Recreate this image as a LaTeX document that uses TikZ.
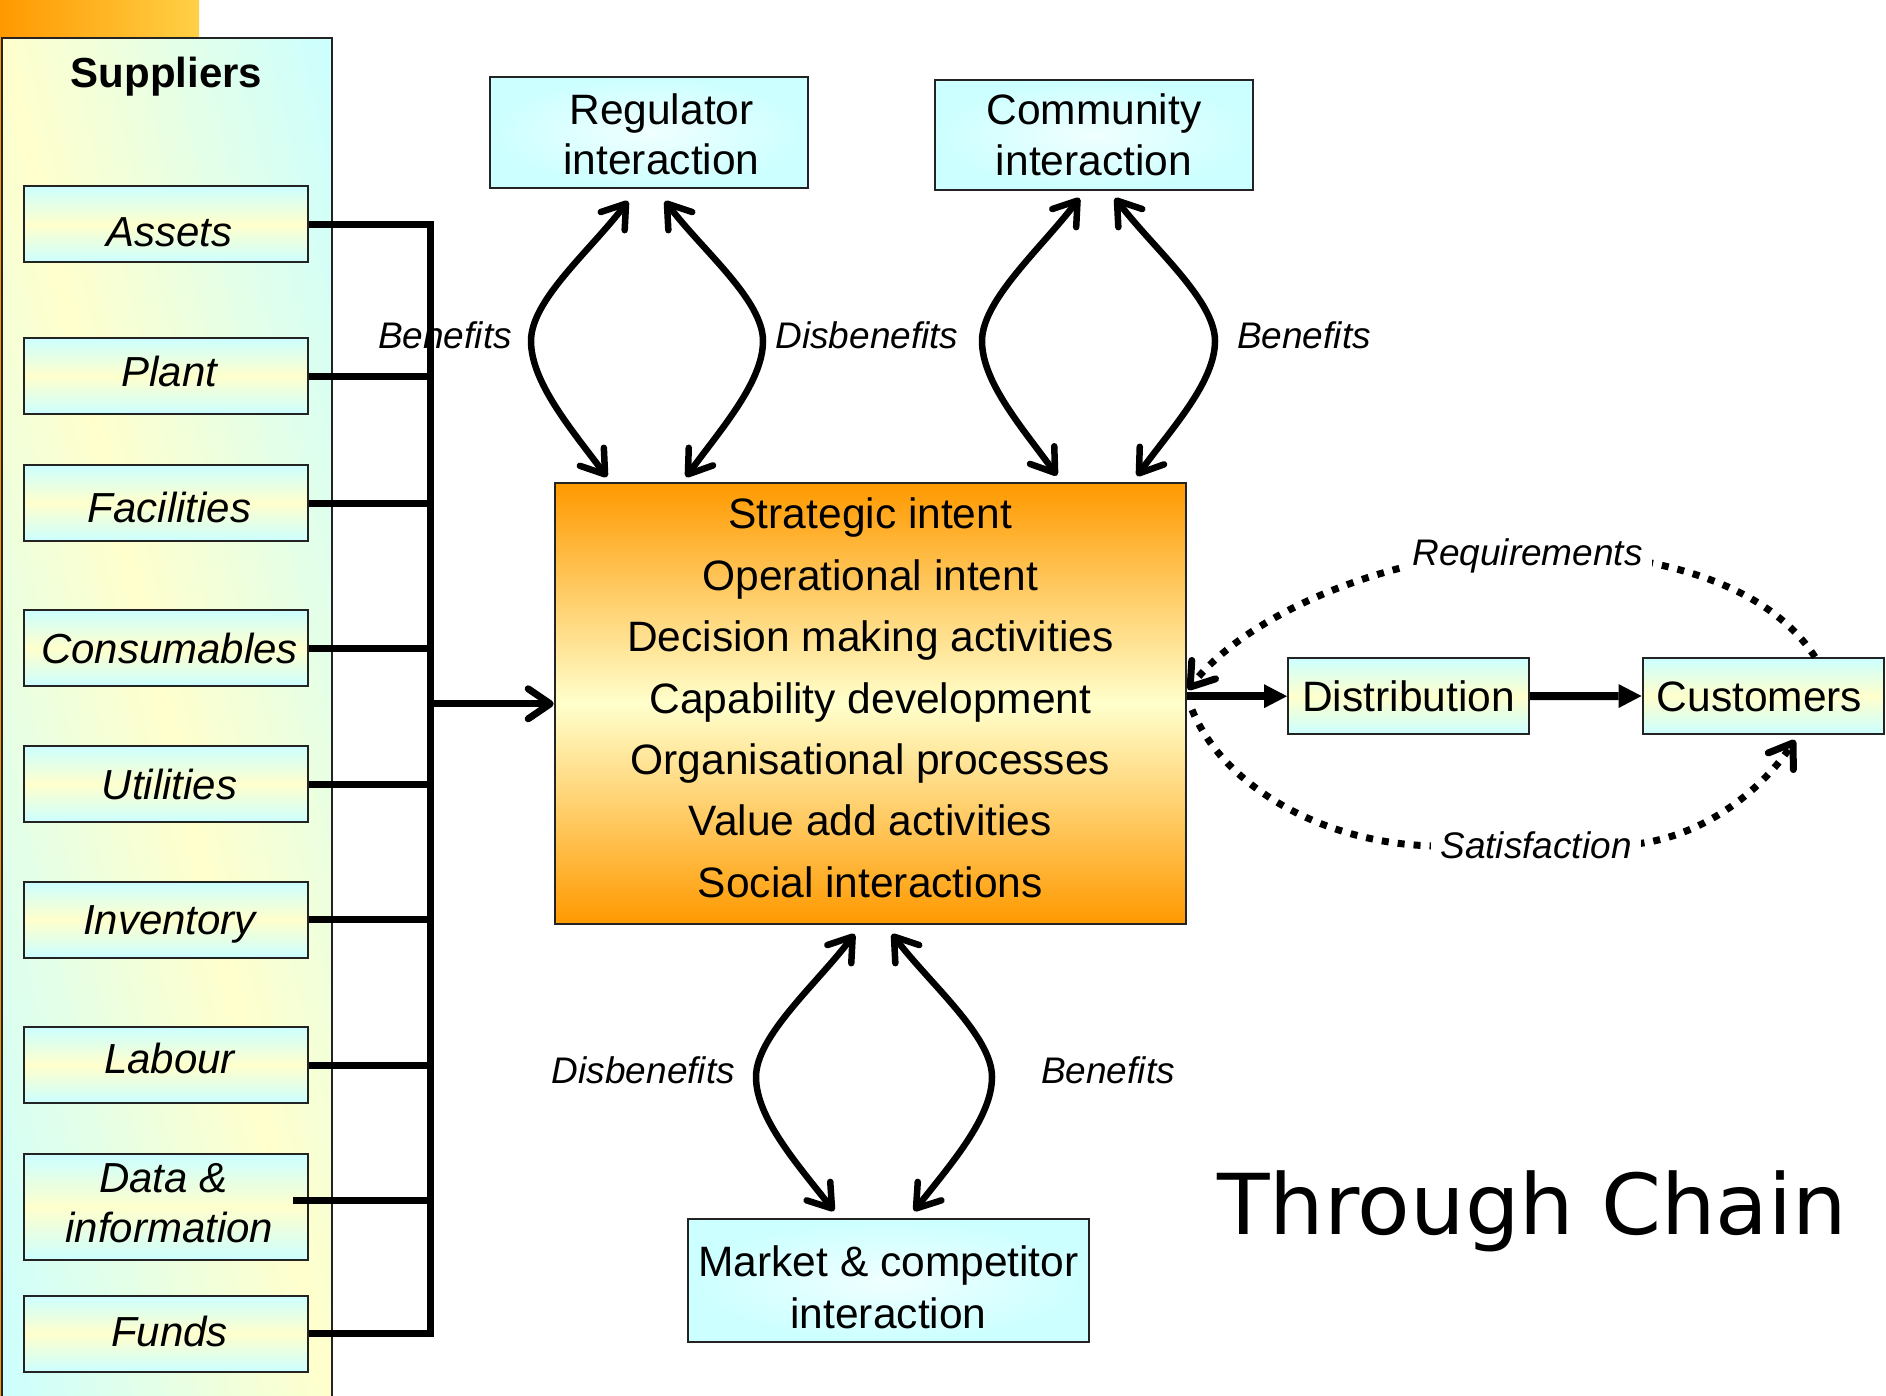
\documentclass[tikz,border=0pt]{standalone}
\usepackage{fontspec}
\setmainfont{Liberation Sans}
\newfontfamily\dejavu{DejaVu Sans}
\usetikzlibrary{arrows.meta,calc,shadings}
\definecolor{cyanL}{RGB}{204,255,255}
\definecolor{cyanC}{RGB}{240,255,255}
\definecolor{yelL}{RGB}{255,255,204}
\definecolor{orng}{RGB}{255,153,0}
\definecolor{orngY}{RGB}{255,208,70}
\definecolor{edge}{RGB}{35,35,35}
\tikzset{
  >={Straight Barb[length=22pt,width=30pt,round]},
  supbox/.style={draw=edge, line width=2pt, top color=cyanL, bottom color=cyanL, middle color=yelL,
    minimum width=284pt, minimum height=76pt, inner sep=0pt, font=\fontsize{42}{50}\selectfont\itshape},
  oneline/.style={text height=30.4pt, text depth=0pt},
  intbox/.style={draw=edge, line width=2pt, inner color=cyanC, outer color=cyanL, inner sep=0pt,
    align=center, font=\fontsize{42.5}{50.5}\selectfont},
  chainbox/.style={draw=edge, line width=2pt, top color=cyanL, bottom color=cyanL, middle color=yelL,
    minimum width=241pt, minimum height=76pt, inner sep=0pt, text height=30.4pt, text depth=0pt,
    font=\fontsize{42.5}{50}\selectfont},
  mainbox/.style={draw=edge, line width=2pt, top color=orng, bottom color=orng, middle color=yelL,
    inner sep=0pt, align=center, font=\fontsize{42.5}{61.4}\selectfont},
  busline/.style={line width=7pt, line join=miter},
  curv/.style={line width=6.5pt, <->},
  solidarr/.style={line width=8pt, -{Triangle[length=23pt,width=24pt,line width=0pt]}},
  dotarr/.style={line width=7pt, dash pattern=on 7pt off 9pt, ->},
  lbl/.style={font=\fontsize{37}{44}\selectfont\itshape, text height=26.5pt, text depth=0pt, inner sep=3pt},
  cutlbl/.style={lbl, fill=white, inner xsep=9pt, inner ysep=5pt},
}
\begin{document}
\begin{tikzpicture}[x=1pt,y=-1pt]
\useasboundingbox (0,0) rectangle (1886,1396);
% corner decoration and left strip
\fill[left color=orng, right color=orngY] (0,0) rectangle (199,38);
\fill[orng] (0,38) rectangle (2,1396);
% suppliers panel: diagonal gradient (yellow along the main diagonal, cyan at the other corners)
\begin{scope}
  \clip (1.5,38) rectangle (332,1402);
  \foreach \i in {0,...,59} {
    \pgfmathsetmacro\wa{-1+2*\i/60}
    \pgfmathsetmacro\wb{-1+2*(\i+1)/60+0.006}
    \pgfmathtruncatemacro\tt{round(100*abs(-1+2*(\i+0.5)/60))}
    \fill[cyanL!\tt!yelL] ({1.5+330.5*\wa},38) -- ({1.5+330.5*\wb},38)
      -- ({1.5+330.5*(\wb+1)},1402) -- ({1.5+330.5*(\wa+1)},1402) -- cycle;
  }
\end{scope}
\draw[edge, line width=2pt] (1.5,38) rectangle (332,1402);
\node[font=\fontsize{42}{50}\selectfont\bfseries, anchor=base] (suptitle) at (166.5,87.3) {Suppliers};
% supplier boxes
\node[supbox, oneline] (assets)      at (166,224.3)  {\hspace*{7pt}\raisebox{-7.4pt}{Assets}};
\node[supbox, oneline] (plant)       at (166,376)    {\hspace*{7pt}\raisebox{5pt}{Plant}};
\node[supbox, oneline] (facilities)  at (166,503)    {\hspace*{7pt}\raisebox{-4pt}{Facilities}};
\node[supbox, oneline] (consumables) at (166,648)    {\hspace*{7pt}Consumables};
\node[supbox, oneline] (utilities)   at (166,784)    {\hspace*{7pt}Utilities};
\node[supbox, oneline] (inventory)   at (166,919.5)  {\hspace*{7pt}Inventory};
\node[supbox, oneline] (labour)      at (166,1065)   {\hspace*{7pt}\raisebox{7pt}{Labour}};
\node[supbox, minimum height=105.7pt, align=center, text depth=8pt] (data) at (166,1207.2)
  {\hspace*{7pt}Data \&\hspace*{12pt}\\\hspace*{7pt}information};
\node[supbox, oneline] (funds)       at (166,1333.5) {\hspace*{7pt}\raisebox{1.8pt}{Funds}};
% main box
\node[mainbox, minimum width=631.3pt, minimum height=441pt, text depth=12.4pt] (main) at (870.35,703.8)
  {Strategic intent\\Operational intent\\Decision making activities\\Capability development\\Organisational processes\\Value add activities\\Social interactions};
% interaction boxes
\node[intbox, minimum width=318pt, minimum height=111pt, text height=85pt, text depth=0pt] (reg) at (649,132.5)
  {\hspace*{25pt}Regulator\\\hspace*{25pt}interaction};
\node[intbox, minimum width=318pt, minimum height=110pt] (com) at (1094,135)
  {Community\\interaction};
\node[intbox, minimum width=401pt, minimum height=123pt, text height=95.6pt, text depth=0pt,
  font=\fontsize{42.5}{51.6}\selectfont] (market) at (888.5,1280.5)
  {Market \& competitor\\interaction};
% distribution chain
\node[chainbox] (dist) at (1408.5,696.2) {Distribution};
\node[chainbox] (cust) at (1763,696) {Customers\hspace*{7pt}};
% bus from suppliers
\coordinate (busT) at (430,224.3);
\coordinate (busB) at (430,1333.5);
\draw[busline] (assets.east) -- (busT) -- (busB) -- (funds.east);
\foreach \n in {plant,facilities,consumables,utilities,inventory,labour}
  \draw[busline] (\n.east) -- (\n.east -| busT);
\coordinate (dstart) at ([shift={(-16,-7)}]data.east);
\draw[busline] (dstart) -- (dstart -| busT);
\draw[busline, ->] (busT |- main.west) -- (main.west);
% solid chain arrows
\draw[solidarr] (main.east |- dist.west) -- (dist.west);
\draw[solidarr] (dist.east) -- (cust.west);
% curved double arrows: regulator
\draw[curv] ($(reg.south)+(-21,12)$) .. controls +(-38,50) and +(0,-41) .. (531,341)
  .. controls +(0,41) and +(-36,-48) .. ($(main.north west)+(53.3,-5.3)$);
\draw[curv] ($(reg.south)+(16,12)$) .. controls +(38,50) and +(0,-41) .. (763,341)
  .. controls +(0,41) and +(35,-48) .. ($(main.north west)+(132.3,-5.3)$);
% community
\draw[curv] ($(com.south)+(-14.5,7)$) .. controls +(-38,50) and +(0,-41) .. (982,341)
  .. controls +(0,41) and +(-35,-48) .. ($(main.north west)+(503.3,-6.8)$);
\draw[curv] ($(com.south)+(21,7)$) .. controls +(38,50) and +(0,-41) .. (1215,341)
  .. controls +(0,41) and +(35,-48) .. ($(main.north west)+(583.3,-6.3)$);
% market
\draw[curv] ($(main.south)+(-15.75,8.7)$) .. controls +(-38,50) and +(0,-41) .. (756,1077)
  .. controls +(0,41) and +(-36,-46) .. ($(market.north)+(-54.5,-7)$);
\draw[curv] ($(main.south)+(21.65,8.7)$) .. controls +(38,50) and +(0,-41) .. (992,1077)
  .. controls +(0,41) and +(36,-46) .. ($(market.north)+(25.5,-7)$);
% dotted feedback arrows
\draw[dotarr] ($(cust.north)+(52,0)$) .. controls (1765,580) and (1650,552) .. (1527,551)
  .. controls (1400,551) and (1250,610) .. ($(main.east)+(1,-14)$);
\draw[dotarr] ($(main.east)+(5,6)$) .. controls (1225,790) and (1330,846) .. (1440,846)
  -- (1636,844) .. controls (1710,835) and (1765,785) .. ($(cust.south)+(32,5)$);
% labels
\node[lbl] (lb1) at (445,335.6) {Benefits};
\node[lbl] (lb2) at (867,335.6) {Disbenefits};
\node[lbl] (lb3) at (1304,335.6) {Benefits};
\node[lbl] (lb4) at (643.5,1070.5) {Disbenefits};
\node[lbl] (lb5) at (1108,1070.5) {Benefits};
\node[cutlbl] (lreq) at (1527.6,552) {Requirements};
\node[cutlbl] (lsat) at (1536,845.6) {Satisfaction};
% title
\node[font=\dejavu\fontsize{84}{100}\selectfont, anchor=base west, inner sep=0pt] (title) at (1217,1234)
  {\scalebox{1.024}[1]{Through Chain}};
\end{tikzpicture}
\end{document}
